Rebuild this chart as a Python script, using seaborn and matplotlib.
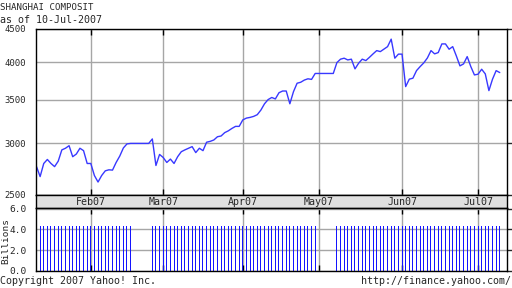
import matplotlib
matplotlib.use('Agg')
import matplotlib.pyplot as plt
from matplotlib.ticker import FixedLocator, FixedFormatter, NullLocator
import seaborn as sns
import pandas as pd
import numpy as np

# ---------------- data (every weekday 11-Jan-2007 .. 10-Jul-2007) ----------------
start_date = '2007-01-11'
end_date = '2007-07-10'

close_jan = [2761, 2665, 2792, 2832, 2792, 2761, 2815, 2930, 2947, 2974, 2860, 2887, 2947, 2922, 2792]
close_feb = [2792, 2675, 2614, 2675, 2720, 2730, 2727, 2802, 2866, 2950, 2993, 2998, 2998, 2998, 2998,
             2998, 2998, 3046, 2772, 2883]
close_mar = [2852, 2802, 2836, 2792, 2860, 2911, 2930, 2947, 2964, 2902, 2947, 2922, 3011, 3020, 3035,
             3070, 3078, 3115, 3135, 3162, 3185, 3185]
close_apr = [3259, 3280, 3288, 3300, 3320, 3375, 3451, 3503, 3529, 3511, 3589, 3611, 3611, 3451, 3602,
             3712, 3725, 3754, 3771, 3763, 3843]
close_may = [3843, 3843, 3843, 3843, 3843, 3994, 4043, 4057, 4032, 4043, 3906, 3985, 4043, 4023, 4070,
             4120, 4168, 4153, 4190, 4227, 4341, 4057, 4116]
close_jun = [4116, 3668, 3766, 3779, 3882, 3938, 3990, 4060, 4168, 4120, 4139, 4268, 4268, 4188, 4227,
             4090, 3948, 3976, 4080, 3938, 3823]
close_jul = [3833, 3901, 3837, 3616, 3766, 3882, 3855]

vol_jan = [4.35, 4.35, 4.35, 4.35, 4.35, 4.35, 4.35, 4.35, 4.35, 4.35, 4.35, 4.35, 4.35, 4.35, 4.35]
vol_feb = [4.35, 4.35, 4.35, 4.35, 4.35, 4.35, 4.35, 4.35, 4.35, 4.35, 4.35, 4.35, 0, 0, 0,
           0, 0, 4.35, 4.35, 4.35]
vol_mar = [4.35, 4.35, 4.35, 4.35, 4.35, 4.35, 4.35, 4.35, 4.35, 4.35, 4.35, 4.35, 4.35, 4.35, 4.35,
           4.35, 4.35, 4.35, 4.35, 4.35, 4.35, 4.35]
vol_apr = [4.35, 4.35, 4.35, 4.35, 4.35, 4.35, 4.35, 4.35, 4.35, 4.35, 4.35, 4.35, 4.35, 4.35, 4.35,
           4.35, 4.35, 4.35, 4.35, 4.35, 4.35]
vol_may = [0, 0, 0, 0, 0, 4.35, 4.35, 4.35, 4.35, 4.35, 4.35, 4.35, 4.35, 4.35, 4.35,
           4.35, 4.35, 4.35, 4.35, 4.35, 4.35, 4.35, 4.35]
vol_jun = [4.35, 4.35, 4.35, 4.35, 4.35, 4.35, 4.35, 4.35, 4.35, 4.35, 4.35, 4.35, 4.35, 4.35, 4.35,
           4.35, 4.35, 4.35, 4.35, 4.35, 4.35]
vol_jul = [4.35, 4.35, 4.35, 4.35, 4.35, 4.35, 4.35]

month_labels = ['Feb07', 'Mar07', 'Apr07', 'May07', 'Jun07', 'Jul07']
price_ticks = [2500, 3000, 3500, 4000, 4500]
price_tick_labels = ['2500', '3000', '3500', '4000', '4500']
vol_ticks = [0.0, 2.0, 4.0, 6.0]
vol_tick_labels = ['0.0', '2.0', '4.0', '6.0']

title_text = 'SHANGHAI COMPOSIT'
subtitle_text = 'as of 10-Jul-2007'
copyright_text = 'Copyright 2007 Yahoo! Inc.'
url_text = 'http://finance.yahoo.com/'

# ---------------- build frames ----------------
days = pd.bdate_range(start_date, end_date)
close = close_jan + close_feb + close_mar + close_apr + close_may + close_jun + close_jul
volume = vol_jan + vol_feb + vol_mar + vol_apr + vol_may + vol_jun + vol_jul
df = pd.DataFrame({'date': days, 'pos': np.arange(len(days)), 'close': close, 'vol': volume})
dfv = df[df['vol'] > 0]
month_pos = [int(df.index[df['date'].dt.month == m][0]) for m in range(2, 8)]

# ---------------- style ----------------
sns.set_style('white')
plt.rcParams['font.family'] = ['DejaVu Sans Mono']
FS = 7.2
GRID = '#a6a6a6'

W, H = 512, 288
fig = plt.figure(figsize=(W / 100, H / 100), dpi=100)
L, R = 36, 507
ax1 = fig.add_axes([L / W, 1 - 194.6 / H, (R - L) / W, (194.6 - 29) / H])
band = fig.add_axes([L / W, 1 - 208 / H, (R - L) / W, (208 - 194.6) / H])
ax2 = fig.add_axes([L / W, 1 - 271 / H, (R - L) / W, (271 - 208) / H])

xlim = (-0.14, 130.0)
px_per_unit = (R - L) / (xlim[1] - xlim[0])

# price line
sns.lineplot(data=df, x='pos', y='close', ax=ax1, color='#3838ff', linewidth=1.0)
ax1.set_yscale('log')
ax1.set_ylim(2500, 4500)
ax1.yaxis.set_major_locator(FixedLocator(price_ticks))
ax1.yaxis.set_major_formatter(FixedFormatter(price_tick_labels))
ax1.yaxis.set_minor_locator(NullLocator())
ax1.set_xlim(*xlim)
ax1.set_xticks(month_pos)
ax1.grid(True, color=GRID, linewidth=1)
ax1.set_axisbelow(True)
ax1.tick_params(axis='x', direction='in', top=True, bottom=True, length=4, width=1,
                color='black', labelbottom=False)
ax1.tick_params(axis='y', direction='out', left=False, right=True, length=4, width=1,
                labelsize=6.4, pad=3)
ax1.set_xlabel('')
ax1.set_ylabel('')

# month band
band.set_facecolor('#e0e0e0')
band.set_xlim(*xlim)
band.set_xticks([])
band.set_yticks([])
for p, lab in zip(month_pos, month_labels):
    band.text(p, 0.45, lab, transform=band.get_xaxis_transform(), ha='center', va='center',
              fontsize=FS)

# volume bars (1 px wide)
sns.barplot(data=dfv, x='pos', y='vol', ax=ax2, native_scale=True, color='#1414ff',
            saturation=1, width=1.0 / px_per_unit, errorbar=None, linewidth=0)
for patch in ax2.patches:
    patch.set_antialiased(False)
ax2.set_xlim(*xlim)
ax2.set_ylim(0, 6.05)
ax2.set_yticks(vol_ticks)
ax2.set_yticklabels(vol_tick_labels)
ax2.set_xticks(month_pos)
ax2.grid(True, color=GRID, linewidth=1)
ax2.set_axisbelow(True)
ax2.tick_params(axis='x', direction='in', top=True, bottom=True, length=4, width=1,
                color='black', labelbottom=False)
ax2.tick_params(axis='y', direction='out', left=False, right=True, length=4, width=1,
                labelsize=6.8, pad=2.5)
ax2.set_xlabel('')
ax2.set_ylabel('')

for a in (ax1, band, ax2):
    for s in a.spines.values():
        s.set_color('black')
        s.set_linewidth(1)
        s.set_visible(True)

# texts
fig.text(0.5 / W, 1 - 10 / H, title_text, ha='left', va='baseline', fontsize=6.6)
fig.text(0.5 / W, 1 - 23 / H, subtitle_text, ha='left', va='baseline', fontsize=FS)
fig.text(0.5 / W, 1 - 284 / H, copyright_text, ha='left', va='baseline', fontsize=FS)
fig.text(511.5 / W, 1 - 284 / H, url_text, ha='right', va='baseline', fontsize=FS)
fig.text(6.0 / W, 1 - 241 / H, 'Billions', ha='center', va='center', rotation=90, fontsize=6.8)

fig.savefig('out.png', dpi=100)
